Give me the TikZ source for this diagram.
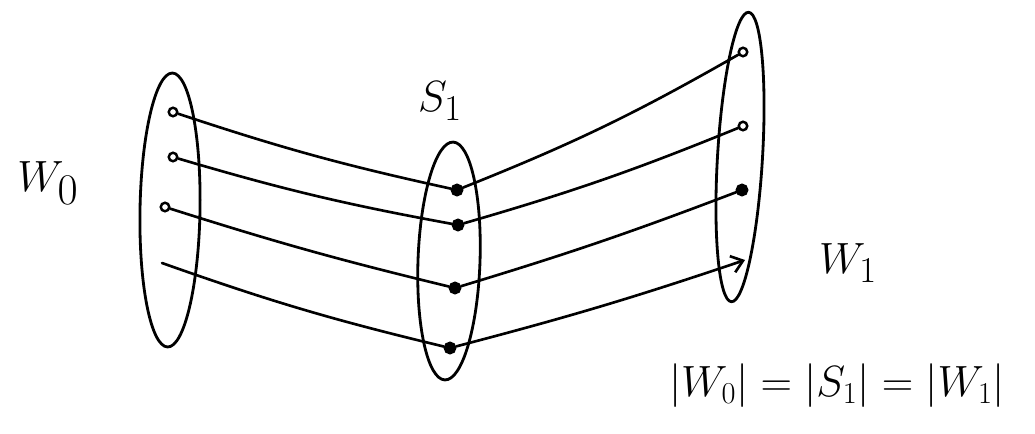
\documentclass[tikz,border=0pt]{standalone}
\usepackage{tikz}
\usetikzlibrary{arrows.meta,shapes.geometric}

\begin{document}
\begin{tikzpicture}[
        line width=1.6pt, line cap=round,
        setbox/.style={draw, ellipse, inner sep=0pt},
        opendot/.style={draw, circle, inner sep=0pt, minimum size=0.17cm, line width=1.4pt},
        fulldot/.style={draw, circle, fill, inner sep=0pt, minimum size=0.2cm},
        map/.style={line width=1.5pt},
        lbl/.style={inner sep=0pt}
    ]
        \useasboundingbox (0,0) rectangle (20.7,-8.66);

        % the three sets
        \node[setbox, minimum width=1.2cm, minimum height=5.48cm, rotate=-1] (setW0) at (3.40,-4.20) {};
        \node[setbox, minimum width=1.24cm, minimum height=4.76cm, rotate=-2] (setS1) at (8.98,-5.22) {};
        \node[setbox, minimum width=0.9cm, minimum height=5.8cm, rotate=-3.4] (setW1) at (14.80,-3.14) {};

        % elements
        \node[opendot] (w0a) at (3.46,-2.24) {};
        \node[opendot] (w0b) at (3.46,-3.14) {};
        \node[opendot] (w0c) at (3.30,-4.14) {};
        \coordinate (w0d) at (3.24,-5.26);

        \node[fulldot] (s1a) at (9.14,-3.80) {};
        \node[fulldot] (s1b) at (9.16,-4.50) {};
        \node[fulldot] (s1c) at (9.10,-5.76) {};
        \node[fulldot] (s1d) at (9.00,-6.96) {};

        \node[opendot] (w1a) at (14.86,-1.04) {};
        \node[opendot] (w1b) at (14.86,-2.52) {};
        \node[fulldot] (w1c) at (14.84,-3.80) {};
        \coordinate (w1d) at (14.90,-5.20);

        % labels
        \node[lbl, font=\fontsize{36}{40}\selectfont] (labW0) at (0.96,-3.66) {$W_0$};
        \node[lbl, font=\fontsize{28}{32}\selectfont] (labS1) at (8.80,-2.02) {$S_1$};
        \node[lbl, font=\fontsize{30}{34}\selectfont] (labW1) at (16.96,-5.26) {$W_1$};
        \node[lbl, font=\fontsize{27}{30}\selectfont] (labEq) at (16.74,-7.72) {$|W_0| = |S_1| = |W_1|$};

        % maps W0 -> S1
        \draw[map] (w0a) to[bend left=-3] (s1a);
        \draw[map] (w0b) to[bend left=-3] (s1b);
        \draw[map] (w0c) to[bend left=-2] (s1c);
        \draw[map] (w0d) to[bend left=-3] (s1d);

        % maps S1 -> W1
        \draw[map] (s1a) to[bend left=-4] (w1a);
        \draw[map] (s1b) to[bend left=-3] (w1b);
        \draw[map] (s1c) to[bend left=-2] (w1c);
        \draw[map, -{Straight Barb[length=2.2mm, width=3.4mm]}] (s1d) to[bend left=-2] (w1d);
\end{tikzpicture}
\end{document}
